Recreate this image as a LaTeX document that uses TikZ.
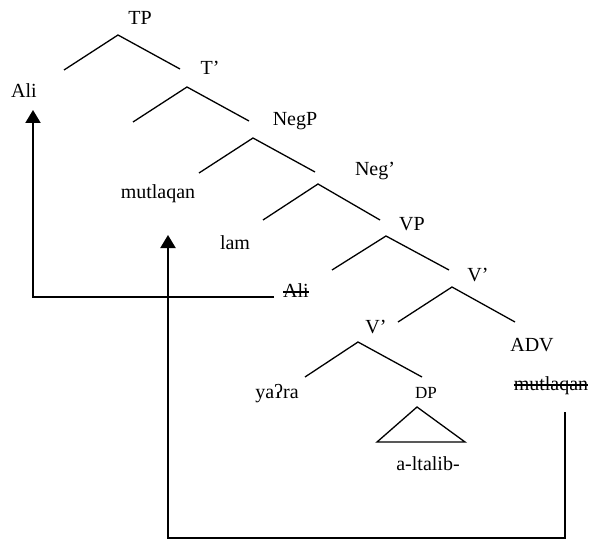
\documentclass[tikz,border=0pt]{standalone}
\usepackage{fontspec}
\setmainfont{Liberation Serif}
\usetikzlibrary{arrows.meta}

\begin{document}
\begin{tikzpicture}[
    x=1pt, y=-1pt,
    cat/.style={anchor=base, inner sep=1pt, font=\fontsize{20}{24}\selectfont},
    small cat/.style={cat, font=\fontsize{17}{20}\selectfont},
    word/.style={cat},
    strike/.style={line width=1.1pt, shorten <=1pt, shorten >=1pt},
    branch/.style={line width=1.3pt},
    movement/.style={-{Triangle[length=13pt, width=15pt]}, line width=2.2pt}
]
\useasboundingbox (0,0) rectangle (593,540);

% Labels
\node[cat] (tp) at (140,25) {TP};
\node[word] (ali) at (24,98) {Ali};
\node[cat] (tbar) at (210,75) {T'};
\node[cat] (negp) at (295,126) {NegP};
\node[word] (mutlaqan) at (158,198) {mutlaqan};
\node[cat] (negbar) at (375,175) {Neg'};
\node[word] (lam) at (235,249) {lam};
\node[cat] (vp) at (412,230) {VP};
\node[word] (ali-trace) at (296,297) {Ali};
\node[cat] (vbar) at (478,281) {V'};
\node[cat] (vbar-low) at (376,333) {V'};
\node[cat] (adv) at (532,351) {ADV};
\node[word] (mutlaqan-trace) at (551,390) {mutlaqan};
\node[word] (yara) at (277,398) {yaʔra};
\node[small cat] (dp) at (426,398) {DP};
\node[word] (altalib) at (428,470) {a-ltalib-};

% Traces are struck through
\draw[strike] ([yshift=5pt]ali-trace.base west) -- ([yshift=5pt]ali-trace.base east);
\draw[strike] ([yshift=5pt]mutlaqan-trace.base west) -- ([yshift=5pt]mutlaqan-trace.base east);

% Branches
\draw[branch] (64,70) -- (118,35) -- (180,69);
\draw[branch] (133,122) -- (187,87) -- (249,121);
\draw[branch] (199,173) -- (253,138) -- (315,172);
\draw[branch] (263,220) -- (318,184) -- (380,220);
\draw[branch] (332,270) -- (386,236) -- (449,270);
\draw[branch] (398,322) -- (452,287) -- (515,322);
\draw[branch] (305,377) -- (358,342) -- (422,377);
\draw[branch] (417,407) -- (377,442) -- (465,442) -- cycle;

% Movement
\coordinate (ali-landing) at (33,110);
\coordinate (adv-foot) at (565,412);
\coordinate (mutlaqan-landing) at (168,235);
\draw[movement] (ali-trace.base west) ++(-8,0) -| (ali-landing);
\draw[movement] (adv-foot) -- ++(0,126) -| (mutlaqan-landing);

\end{tikzpicture}
\end{document}
